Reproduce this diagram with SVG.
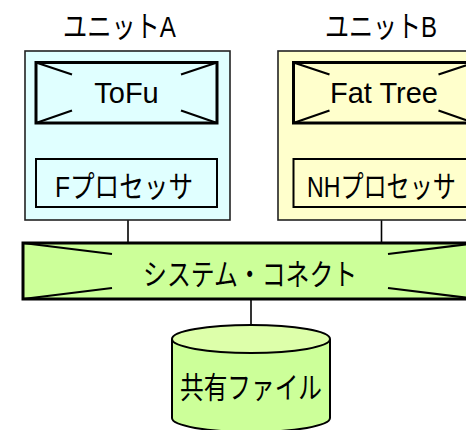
<svg xmlns="http://www.w3.org/2000/svg" width="466" height="430" viewBox="0 0 466 430">
<style>
text{font-family:"Liberation Sans","Noto Sans CJK JP",sans-serif;fill:#000}
.unitA{fill:#E0FFFF;stroke:#222;stroke-width:1.6}
.unitB{fill:#FFFFCC;stroke:#222;stroke-width:1.6}
.netA{fill:#E0FFFF;stroke:#000;stroke-width:3}
.netB{fill:#FFFFCC;stroke:#000;stroke-width:3}
.procA{fill:#E0FFFF;stroke:#000;stroke-width:2}
.procB{fill:#FFFFCC;stroke:#000;stroke-width:2}
.diag{stroke:#000;stroke-width:2.2;fill:none}
.conn{stroke:#000;stroke-width:1.6;fill:none}
.bar{fill:#CCFF99;stroke:#000;stroke-width:3}
.cyl{fill:#CCFF99;stroke:#000;stroke-width:2}
.cyltop{fill:#DDFFAA;stroke:#000;stroke-width:2}
.jp{font-size:30px}
</style>
<g id="connectors">
<line class="conn" x1="126.5" y1="123" x2="126.5" y2="159"/>
<line class="conn" x1="384" y1="123" x2="384" y2="159"/>
<line class="conn" x1="128" y1="220" x2="128" y2="243"/>
<line class="conn" x1="381.5" y1="220" x2="381.5" y2="243"/>
<line class="conn" x1="251" y1="299" x2="251" y2="325"/>
</g>
<g id="unitA">
<rect class="unitA" x="25" y="51" width="205" height="169"/>
<text class="jp" transform="translate(63,37) scale(0.807,1)">ユニットA</text>
</g>
<g id="unitB">
<rect class="unitB" x="278" y="51" width="210" height="169"/>
<text class="jp" transform="translate(325,37) scale(0.8,1)">ユニットB</text>
</g>
<g id="tofu">
<rect class="netA" x="36" y="62.5" width="181" height="60.5"/>
<path class="diag" d="M36 62.5L72 74.5M217 62.5L181 74.5M36 123L72 110.5M217 123L181 110.5"/>
<text x="126.5" y="103" font-size="29" text-anchor="middle">ToFu</text>
</g>
<g id="fattree">
<rect class="netB" x="293.5" y="62.5" width="181" height="60.5"/>
<path class="diag" d="M293.5 62.5L329.5 74.5M474.5 62.5L438.5 74.5M293.5 123L329.5 110.5M474.5 123L438.5 110.5"/>
<text x="384" y="103" font-size="29" text-anchor="middle">Fat Tree</text>
</g>
<g id="fproc">
<rect class="procA" x="36" y="159" width="181" height="48"/>
<text class="jp" transform="translate(55,197) scale(0.82,1)">Fプロセッサ</text>
</g>
<g id="nhproc">
<rect class="procB" x="293.5" y="159" width="181" height="48"/>
<text class="jp" transform="translate(307,197) scale(0.771,1)">NHプロセッサ</text>
</g>
<g id="sysconnect">
<rect class="bar" x="23" y="243" width="454" height="56"/>
<path class="diag" d="M23 243L112 254M477 243L388 254M23 299L112 288M477 299L388 288"/>
<text class="jp" transform="translate(143,285) scale(0.796,1)">システム・コネクト</text>
</g>
<g id="sharedfile">
<path class="cyl" d="M172 339V418A79 14 0 0 0 330 418V339"/>
<ellipse class="cyltop" cx="251" cy="339" rx="79" ry="14"/>
<text class="jp" transform="translate(180,398) scale(0.789,1)">共有ファイル</text>
</g>
</svg>
